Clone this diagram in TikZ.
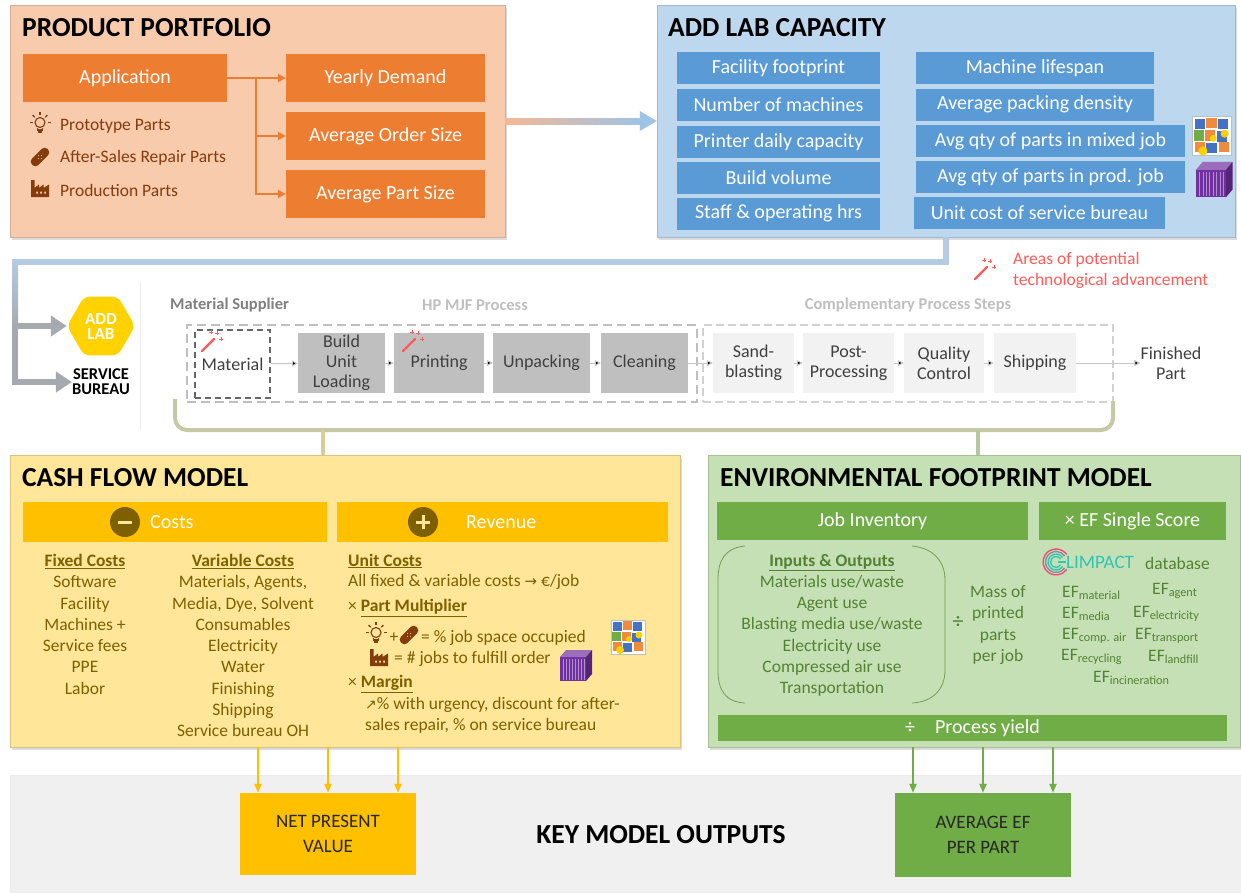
\documentclass[tikz,border=0pt]{standalone}
\usepackage{fontspec}
\setmainfont{Carlito}
\newfontfamily\symfont{DejaVu Sans}
\usetikzlibrary{arrows.meta,shapes.geometric,shadows,calc}

\definecolor{ppbg}{HTML}{F8CBAD}
\definecolor{pporange}{HTML}{ED7D31}
\definecolor{ppbrown}{HTML}{843C0C}
\definecolor{ppshaft}{HTML}{F4B896}
\definecolor{alcbg}{HTML}{BDD7EE}
\definecolor{alcblue}{HTML}{5B9BD5}
\definecolor{alcshaft}{HTML}{9FC3E5}
\definecolor{alcline}{HTML}{B4CCE3}
\definecolor{flowgrey}{HTML}{A6A9AD}
\definecolor{addyellow}{HTML}{FFD200}
\definecolor{procdark}{HTML}{BFBFBF}
\definecolor{proclight}{HTML}{F2F2F2}
\definecolor{proctext}{HTML}{404040}
\definecolor{wandred}{HTML}{FF5B5B}
\definecolor{brkcol}{HTML}{C6C9A6}
\definecolor{stemyel}{HTML}{D9CD97}
\definecolor{stemgrn}{HTML}{B4C9A0}
\definecolor{cfbg}{HTML}{FFE699}
\definecolor{cfyellow}{HTML}{FFC000}
\definecolor{cfolive}{HTML}{7F6000}
\definecolor{efbg}{HTML}{C5E0B4}
\definecolor{efgreen}{HTML}{70AD47}
\definecolor{eftext}{HTML}{548235}
\definecolor{bandgrey}{HTML}{F0F0F0}
\definecolor{glteal}{HTML}{2EC4B6}
\definecolor{glpink}{HTML}{F0467A}
\definecolor{cubeblue}{HTML}{4472C4}
\definecolor{cubeorange}{HTML}{F08A3C}
\definecolor{cubeyellow}{HTML}{FFD000}
\definecolor{cubegreen}{HTML}{70AD47}
\definecolor{cubepurple}{HTML}{7030A0}

\newcommand{\fsz}[2]{\fontsize{#1}{#2}\selectfont}
\newcommand{\uhead}[1]{\underline{\textbf{#1}}}

\tikzset{
	bulb/.pic={
		\draw[line width=1.1pt] (0,-1.5) circle (5);
		\draw[line width=1.1pt] (-2.2,3.5) -- (-2.2,6) -- (2.2,6) -- (2.2,3.5);
		\draw[line width=1.1pt] (-1.6,8) -- (1.6,8);
		\foreach \a in {180,225,270,315,360}
			\draw[line width=1.1pt] (0,-1.5) ++(\a:7.5) -- ++(\a:3);
	},
	bandage/.pic={
		\fill[rotate=45,rounded corners=4pt] (-11,-4.5) rectangle (11,4.5);
		\foreach \u/\v in {-1.5/-1.5,1.5/-1.5,-1.5/1.5,1.5/1.5}
			\fill[white,opacity=0.6] (\u,\v) circle (0.7);
	},
	factory/.pic={
		\fill[even odd rule] (-9,8) -- (-9,-9) -- (-5.5,-9) -- (-5.5,-1) -- (-1,-4.5) -- (-1,-1)
			-- (3.5,-4.5) -- (3.5,-1) -- (9,-4.5) -- (9,8) -- cycle
			(-4,2.5) rectangle (-2,4.5) (0,2.5) rectangle (2,4.5) (4,2.5) rectangle (6,4.5);
	},
	wand/.pic={
		\draw[line width=2.4pt,line cap=round] (-9,9) -- (3,-3);
		\foreach \u/\v in {6/-9,10/-3,0/-10}
			\draw[line width=1pt] (\u-2,\v) -- (\u+2,\v) (\u,\v-2) -- (\u,\v+2);
	},
	mixcube/.pic={
		\draw[black!25,fill=white] (-17,-17) rectangle (17,17);
		\foreach \u/\v/\c in {-15/-15/cubeblue,-5/-16/cubeorange,5/-15/cubeblue,
			-16/-5/cubegreen,-6/-5/cubeorange,4/-4/cubeblue,
			-15/5/cubeorange,-5/6/cubeblue,6/5/cubeorange}
			\fill[\c] (\u,\v) rectangle ++(9,9);
		\fill[cubeyellow] (-8,13) circle (4) (11,-2) circle (3.5) (1,2) circle (3);
	},
	prodcube/.pic={
		\fill[cubepurple] (-14,-8) rectangle (12,16);
		\fill[cubepurple!70] (-14,-8) -- (-8,-15) -- (18,-15) -- (12,-8) -- cycle;
		\fill[cubepurple!75!black] (12,-8) -- (18,-15) -- (18,9) -- (12,16) -- cycle;
		\foreach \u in {-11,-8,...,10}
			\draw[cubepurple!55,line width=0.5pt] (\u,-6) -- (\u,15);
	}
}

\begin{document}
\begin{tikzpicture}[x=1pt,y=-1pt,
	panel/.style={rectangle,inner sep=0pt,fill=#1,draw=#1!85!black,line width=0.5pt,
		drop shadow={opacity=0.28,shadow xshift=2pt,shadow yshift=-3pt}},
	sz/.style 2 args={minimum width=#1pt,minimum height=#2pt},
	paneltitle/.style={anchor=west,inner sep=0pt,font=\bfseries\fsz{27.5}{30}},
	lbl/.style={rectangle,inner sep=0pt,fill=#1,text=white,font=\fsz{20}{24}},
	pbox/.style={rectangle,inner sep=0pt,fill=#1,text=proctext,align=center,font=\fsz{18}{20}},
	outbox/.style={rectangle,inner sep=0pt,fill=#1,text=black!85,align=center,font=\fsz{19}{25}},
	ppt/.style={anchor=west,inner sep=0pt,text=ppbrown,font=\fsz{17.5}{21}},
	cft/.style={inner sep=0pt,text=cfolive,font=\fsz{17.5}{21.3}},
	eft/.style={inner sep=0pt,text=eftext,font=\fsz{17.5}{21.2}},
	phead/.style={inner sep=0pt,font=\bfseries\fsz{16.5}{20}},
	oline/.style={draw=pporange,line width=2.5pt,-{Triangle[length=8pt,width=8pt]}},
	pline/.style={draw=black!22,line width=1pt,-{Triangle[length=6pt,width=6pt]}},
	flowline/.style={draw=flowgrey,line width=6pt,-{Triangle[length=16pt,width=20pt]}},
	yline/.style={draw=cfyellow,line width=2pt,-{Triangle[length=9pt,width=7pt]}},
	gline/.style={draw=efgreen,line width=2pt,-{Triangle[length=9pt,width=7pt]}}]
	\useasboundingbox (0,0) rectangle (1241,892);

	% product portfolio
	\node[panel=ppbg,sz={495}{232}] (pp) at (257.5,121) {};
	\node[paneltitle] (pptitle) at (22,28) {PRODUCT PORTFOLIO};
	\node[lbl=pporange,sz={204}{48}] (app) at (125,78) {Application};
	\node[lbl=pporange,sz={199}{48}] (ydem) at (385.5,78) {Yearly Demand};
	\node[lbl=pporange,sz={199}{48}] (aord) at (385.5,136) {Average Order Size};
	\node[lbl=pporange,sz={199}{48}] (apsz) at (385.5,194) {Average Part Size};
	\coordinate (br) at (256,78);
	\draw[oline] (app) -- (ydem);
	\draw[oline] (br) |- (aord);
	\draw[oline] (br) |- (apsz);
	\pic[ppbrown] at (40,124) {bulb};
	\pic[ppbrown] at (40,157) {bandage};
	\pic[ppbrown] at (40,189) {factory};
	\node[ppt] (proto) at (60,126) {Prototype Parts};
	\node[ppt] (after) at (60,158) {After-Sales Repair Parts};
	\node[ppt] (prod) at (60,190) {Production Parts};

	% add lab capacity
	\node[panel=alcbg,sz={578}{232}] (alc) at (946,121) {};
	\node[paneltitle] (alctitle) at (668,28) {ADD LAB CAPACITY};
	\foreach \y/\n/\t in {68/ffp/Facility footprint,104.5/nmach/Number of machines,
		142/pcap/Printer daily capacity,178/bvol/Build volume,213.5/staff/Staff \& operating hrs}
		\node[lbl=alcblue,sz={203}{32}] (\n) at (778.5,\y) {\t};
	\node[lbl=alcblue,sz={238}{32}] (life) at (1035,68) {Machine lifespan};
	\node[lbl=alcblue,sz={238}{32}] (pack) at (1035,104.5) {Average packing density};
	\node[lbl=alcblue,sz={269}{32}] (mixq) at (1050.5,141) {Avg qty of parts in mixed job};
	\node[lbl=alcblue,sz={269}{32}] (prodq) at (1050.5,177) {Avg qty of parts in prod. job};
	\node[lbl=alcblue,sz={251}{32}] (ucost) at (1039.5,213) {Unit cost of service bureau};
	\pic[scale=1.15] at (1212,136) {mixcube};
	\pic[scale=1.15] at (1212,179) {prodcube};

	\shade[left color=ppshaft,right color=alcshaft] ($(pp.east)+(0,-3)$) rectangle ($(alc.west)+(-15,3)$);
	\fill[alcshaft] ($(alc.west)+(-17,-10)$) -- (alc.west) -- ($(alc.west)+(-17,10)$) -- cycle;

	% add lab / service bureau
	\node[rectangle,fill=white,sz={92}{148},inner sep=0pt] (logobg) at (94,356) {};
	\draw[black!7] (logobg.north east) -- (logobg.south east);
	\node[regular polygon,regular polygon sides=6,minimum size=68pt,inner sep=0pt,fill=addyellow,
		rounded corners=6pt,text=white,align=center,font=\bfseries\fsz{17}{15}] (addlab) at (101,326) {ADD\\LAB};
	\node[inner sep=0pt,align=center,font=\bfseries\fsz{16.5}{15}] (sb) at (101,382) {SERVICE\\BUREAU};
	\coordinate (jn) at (15,262);
	\draw[alcline,line width=6pt] (alc.south) |- (jn);
	\shade[top color=alcline,bottom color=flowgrey] (12,259) rectangle (18,329);
	\draw[flowline] (addlab.west -| jn) -- (addlab.west);
	\draw[flowline] (jn |- addlab.west) |- (sb.west);

	% process chain
	\node[phead,anchor=west,text=black!50] (msup) at (170,305) {Material Supplier};
	\node[phead,text=procdark] (hpl) at (475,305) {HP MJF Process};
	\node[phead,text=procdark] (cpl) at (908,305) {Complementary Process Steps};
	\node[rectangle,draw=procdark,line width=2.5pt,dash pattern=on 9pt off 5pt,sz={510}{77}] (mjf) at (442,363.5) {};
	\node[rectangle,draw=black!18,line width=1.5pt,dash pattern=on 8pt off 4pt,sz={410}{77}] (cps) at (908,363.5) {};
	\node[pbox=white,draw=black!60,line width=1.5pt,dash pattern=on 6pt off 4pt,sz={75}{68}] (mat) at (232.5,364) {Material};
	\node[pbox=procdark,sz={87}{60}] (bul) at (341.5,363) {Build\\Unit\\Loading};
	\node[pbox=procdark,sz={90}{60}] (prt) at (439,363) {Printing};
	\node[pbox=procdark,sz={97}{60}] (unp) at (541.5,363) {Unpacking};
	\node[pbox=procdark,sz={87}{60}] (cln) at (644.5,363) {Cleaning};
	\node[pbox=proclight,sz={81}{60}] (snd) at (753.5,363) {Sand-\\blasting};
	\node[pbox=proclight,sz={91}{60}] (pst) at (848.5,363) {Post-\\Processing};
	\node[pbox=proclight,sz={80}{60}] (qc) at (944,363) {Quality\\Control};
	\node[pbox=proclight,sz={82}{60}] (shp) at (1035,363) {Shipping};
	\node[pbox=white,fill=none] (fin) at (1171,363) {Finished\\Part};
	\path[pline] (mat) edge (bul) (bul) edge (prt) (prt) edge (unp) (unp) edge (cln)
		(cln) edge (snd) (snd) edge (pst) (pst) edge (qc) (qc) edge (shp) (shp) edge (fin);
	\pic[wandred] at (211,342) {wand};
	\pic[wandred] at (412,342) {wand};
	\pic[wandred] at (984,270) {wand};
	\node[anchor=west,align=left,inner sep=0pt,text=wandred,font=\fsz{17.5}{21}] (adv) at (1013,270.5)
		{Areas of potential\\technological advancement};

	% cash flow model
	\node[panel=cfbg,sz={670}{292}] (cfm) at (345,601) {};
	\node[paneltitle] (cftitle) at (22,478) {CASH FLOW MODEL};
	\node[lbl=cfyellow,sz={304}{40}] (costs) at (175,522) {};
	\node[lbl=cfyellow,sz={331}{40}] (rev) at (502.5,522) {};
	\node[circle,fill=cfolive,minimum size=30pt,inner sep=0pt] (minus) at (125,522) {};
	\node[circle,fill=cfolive,minimum size=30pt,inner sep=0pt] (plus) at (423,522) {};
	\draw[cfbg,line width=3pt] ($(minus)+(-7,0)$) -- ($(minus)+(7,0)$);
	\draw[cfbg,line width=3pt] ($(plus)+(-7,0)$) -- ($(plus)+(7,0)$) ($(plus)+(0,-7)$) -- ($(plus)+(0,7)$);
	\node[anchor=west,inner sep=0pt,text=white,font=\fsz{20}{24}] (costl) at (150,522) {Costs};
	\node[anchor=west,inner sep=0pt,text=white,font=\fsz{20}{24}] (revl) at (466,522) {Revenue};
	\node[cft,anchor=north,align=center] (fixed) at (85,554)
		{\uhead{Fixed Costs}\\Software\\Facility\\Machines +\\Service fees\\PPE\\Labor};
	\node[cft,anchor=north,align=center] (var) at (243,554)
		{\uhead{Variable Costs}\\Materials, Agents,\\Media, Dye, Solvent\\Consumables\\Electricity\\Water\\Finishing\\Shipping\\Service bureau OH};
	\node[cft,anchor=west] (unitc) at (348,561) {\uhead{Unit Costs}};
	\node[cft,anchor=west] (allc) at (348,582) {All fixed \& variable costs {\symfont\fsz{15}{18}→} €/job};
	\node[cft,anchor=west] (pmult) at (348,608) {× \uhead{Part Multiplier}};
	\pic[ppbrown] at (376,634) {bulb};
	\node[cft] (plusi) at (394,638) {+};
	\pic[ppbrown] at (409,635) {bandage};
	\node[cft,anchor=west] (jspace) at (421,638) {= \% job space occupied};
	\pic at (628,637) {mixcube};
	\pic[ppbrown] at (379,658) {factory};
	\node[cft,anchor=west] (jobs) at (394,659) {= \# jobs to fulfill order};
	\pic at (574,665) {prodcube};
	\node[cft,anchor=west] (margin) at (348,684) {× \uhead{Margin}};
	\node[cft,anchor=west,align=left] (urg) at (365,715)
		{{\symfont\fsz{14}{18}↗}\% with urgency, discount for after-\\sales repair, \% on service bureau};

	% environmental footprint model
	\node[panel=efbg,sz={532}{292}] (efm) at (974,601) {};
	\node[paneltitle] (eftitle) at (720,478) {ENVIRONMENTAL FOOTPRINT MODEL};
	\node[lbl=efgreen,sz={311}{38}] (jobinv) at (872.5,521) {Job Inventory};
	\node[lbl=efgreen,sz={187}{38}] (efss) at (1132.5,521) {× EF Single Score};
	\draw[eftext!80,line width=0.8pt] (745,546) .. controls (725,548) and (718,560) .. (718,580)
		-- (718,670) .. controls (718,690) and (725,702) .. (745,703);
	\draw[eftext!80,line width=0.8pt] (912,546) .. controls (932,548) and (945,560) .. (945,580)
		-- (945,670) .. controls (945,690) and (932,702) .. (912,703);
	\node[eft,anchor=north,align=center] (inout) at (832,554)
		{\uhead{Inputs \& Outputs}\\Materials use/waste\\Agent use\\Blasting media use/waste\\Electricity use\\Compressed air use\\Transportation};
	\node[eft,font=\fsz{22}{24}] (divm) at (958,623) {÷};
	\node[eft,align=center] (mass) at (998,625) {Mass of\\printed\\parts\\per job};
	\foreach \r/\c in {13/glpink,10.5/glpink!50!glteal,8/glteal,5.5/glteal}
		\draw[\c,line width=1.3pt] (1056,562) ++(35:\r) arc[start angle=35,end angle=325,radius=\r];
	\draw[glteal,line width=1.3pt] (1058,562) -- (1066,562);
	\node[anchor=west,inner sep=0pt,text=glteal,font=\fsz{19}{22}] (glimpact) at (1066,562) {LIMPACT};
	\node[eft,anchor=west] (dbase) at (1145,563) {database};
	\foreach \px/\py/\n/\s in {1062/593/mat/material,1152/591/agt/agent,1062/614/med/media,
		1133/614/ele/electricity,1062/636/air/comp. air,1135/636/trn/transport,
		1061/657/rec/recycling,1148/657/lnd/landfill,1093/678/inc/incineration}
		\node[eft,anchor=west] (ef\n) at (\px,\py) {EF\textsubscript{\s}};
	\node[lbl=efgreen,sz={509}{26}] (yield) at (972.5,728) {÷\quad Process yield};

	% bracket from process chain to both models
	\coordinate (brl) at (323,430);
	\coordinate (brr) at (978,430);
	\draw[brkcol,line width=4pt,rounded corners=12pt] (175,399) |- (1113,430) -- (1113,401);
	\draw[stemyel,line width=4pt] (brl) -- (brl |- cfm.north);
	\draw[stemgrn,line width=4pt] (brr) -- (brr |- efm.north);

	% key model outputs
	\node[rectangle,inner sep=0pt,fill=bandgrey,draw=black!8,sz={1231}{117}] (band) at (625.5,833.5) {};
	\node[outbox=cfyellow,sz={176}{82}] (npv) at (328,834) {NET PRESENT\\VALUE};
	\node[outbox=efgreen,sz={176}{84}] (aef) at (983,835) {AVERAGE EF\\PER PART};
	\node[inner sep=0pt,font=\bfseries\fsz{27.5}{30}] (kmo) at (661,835) {KEY MODEL OUTPUTS};
	\foreach \dx in {-70,0,70} {
		\draw[yline] ($(npv.north |- cfm.south)+(\dx,0)$) -- ($(npv.north)+(\dx,0)$);
		\draw[gline] ($(aef.north |- efm.south)+(\dx,0)$) -- ($(aef.north)+(\dx,0)$);
	}
\end{tikzpicture}
\end{document}
